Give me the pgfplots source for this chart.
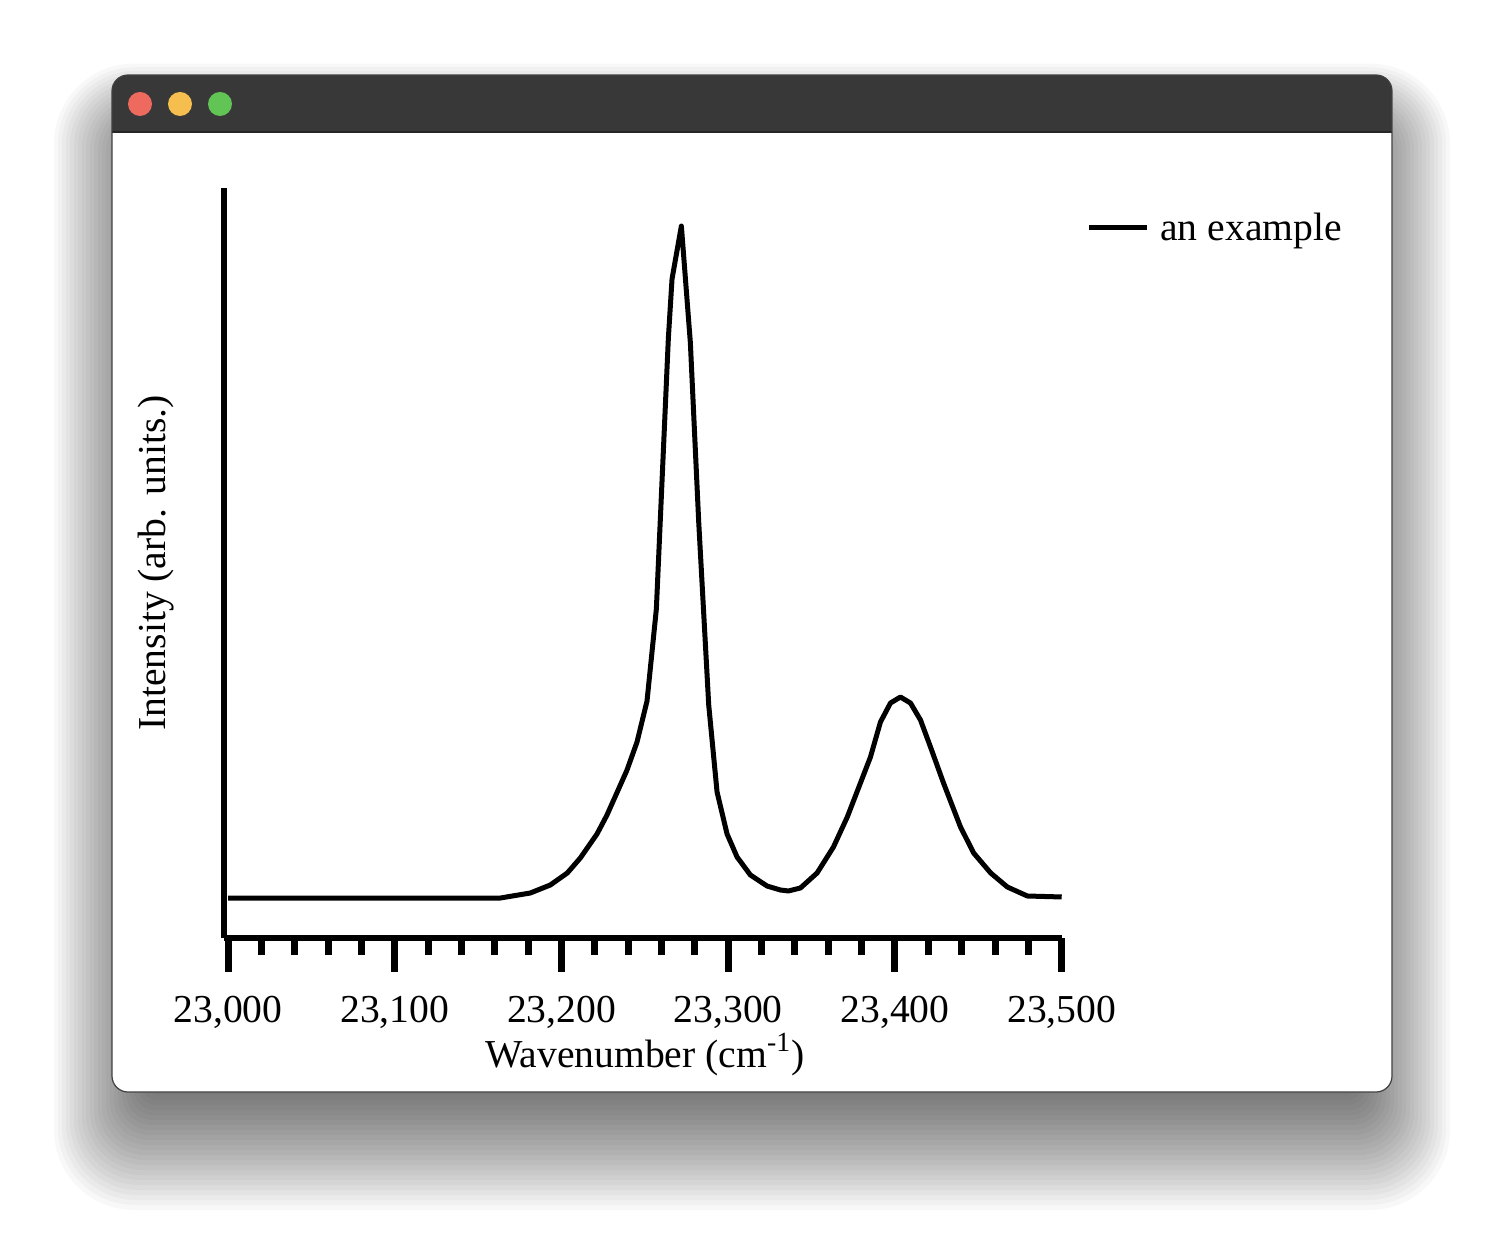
\documentclass[border=0pt]{standalone}
\usepackage{fontspec}
\setmainfont{Liberation Serif}
\usepackage{pgfplots}
\pgfplotsset{compat=1.18}
\definecolor{titlebar}{HTML}{383838}
\definecolor{tlred}{HTML}{EE6A5E}
\definecolor{tlyellow}{HTML}{F5BE4F}
\definecolor{tlgreen}{HTML}{61C454}
\newcommand\chartfont{\fontsize{19.8}{24}\selectfont}
\begin{document}
\begin{tikzpicture}[x=0.5pt,y=-0.5pt]
\path[use as bounding box, fill=white] (0,0) rectangle (1504,1240);
% window shadow
\foreach \i in {1,...,24}{
  \pgfmathsetmacro\r{4+1.5*\i}
  \fill[black,opacity=0.026,rounded corners=\r pt] ({150-4*\i},{150-3.6*\i}) rectangle ({1354+4*\i},{1090+5*\i});
}
% window
\fill[white, rounded corners=8pt] (112,75) rectangle (1392,1092);
\begin{scope}
\clip[rounded corners=8pt] (112,75) rectangle (1392,1092);
\fill[titlebar] (112,75) rectangle (1392,132);
\draw[black!85, line width=0.6pt] (112,132) -- (1392,132);
\end{scope}
\draw[black!75, line width=0.6pt, rounded corners=8pt] (112,75) rectangle (1392,1092);
\fill[tlred] (140,104) circle[radius=6pt];
\fill[tlyellow] (180,104) circle[radius=6pt];
\fill[tlgreen] (220,104) circle[radius=6pt];
\begin{axis}[
  at={(112pt,-469pt)}, anchor=south west,
  width=418.85pt, height=375pt, scale only axis,
  xmin=22997.6, xmax=23500, ymin=0, ymax=1,
  clip=false,
  axis x line=bottom, axis y line=left,
  axis line style={-, line width=3pt, black},
  xtick={23000,23100,23200,23300,23400,23500},
  minor x tick num=4,
  ytick=\empty,
  tick align=outside,
  major tick length=17pt, minor tick length=8.5pt,
  tick style={black, line width=3.5pt},
  scaled x ticks=false,
  xticklabel style={/pgf/number format/fixed, /pgf/number format/precision=0,
    /pgf/number format/assume math mode=true, /pgf/number format/1000 sep={,},
    font=\chartfont, yshift=-8.5pt},
  xlabel={Wavenumber (cm\textsuperscript{-1})},
  ylabel={Intensity (arb. units.)},
  every axis x label/.style={at={(axis description cs:0.5026,-0.172)}, anchor=base, font=\chartfont},
  every axis y label/.style={at={(axis description cs:-0.0704,0.5)}, anchor=base, rotate=90, font=\chartfont},
  legend style={at={(axis description cs:1.029,0.9467)}, anchor=west, draw=none, fill=none,
    inner sep=0pt, font=\chartfont, legend cell align=left},
  legend image code/.code={\draw[#1] (0pt,0pt) -- (29pt,0pt); \path (32.5pt,0pt);},
]
\addplot[black, line width=2.5pt, line join=round, mark=none] coordinates {
(23000,0.0533) (23163.3,0.0533) (23181.3,0.0600) (23193.3,0.0707)
(23203.5,0.0867) (23211.3,0.1067) (23221.3,0.1387) (23227.3,0.1640) (23239.3,0.2240)
(23245.3,0.2613) (23251.3,0.3160) (23256.9,0.4387) (23264.1,0.8000)
(23266.3,0.8787) (23271.9,0.9493) (23277.3,0.7933) (23282.3,0.5547)
(23288.3,0.3107) (23293.3,0.1947) (23299.3,0.1387) (23305.3,0.1080)
(23313.3,0.0840) (23323.3,0.0693) (23331.3,0.0640) (23336.1,0.0627)
(23343.3,0.0667) (23353.3,0.0867) (23363.1,0.1213) (23371.4,0.1613)
(23379.3,0.2067) (23385.3,0.2413) (23391.3,0.2880) (23397.3,0.3133)
(23403.3,0.3213) (23409.3,0.3133) (23415.3,0.2907) (23421.3,0.2547)
(23429.1,0.2067) (23439.3,0.1480) (23447.2,0.1133) (23457.4,0.0867)
(23467.4,0.0680) (23479.4,0.0560) (23500,0.0547)
};
\addlegendentry{an example}
\end{axis}
\end{tikzpicture}
\end{document}
